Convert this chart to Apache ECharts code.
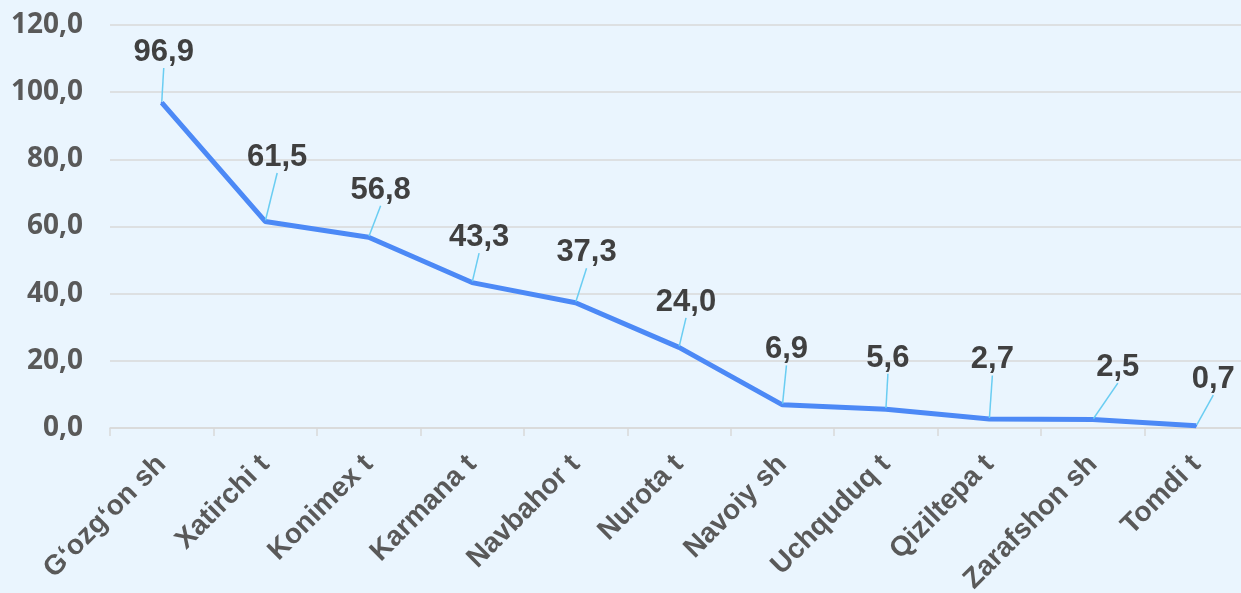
<!DOCTYPE html>
<html>
<head>
<meta charset="utf-8">
<script src="https://cdn.jsdelivr.net/npm/echarts@6/dist/echarts.min.js"></script>
<style>
html, body { margin: 0; padding: 0; background: #EAF5FE; }
#chart { width: 1241px; height: 593px; }
</style>
</head>
<body>
<div id="chart"></div>
<script>
//hudud nomlari
var categories = ['G‘ozg‘on sh', 'Xatirchi t', 'Konimex t', 'Karmana t', 'Navbahor t', 'Nurota t', 'Navoiy sh', 'Uchquduq t', 'Qiziltepa t', 'Zarafshon sh', 'Tomdi t'];
//qiymatlar
var values = [96.9, 61.5, 56.8, 43.3, 37.3, 24.0, 6.9, 5.6, 2.7, 2.5, 0.7];
//y o'qi
var yMin = 0;
var yMax = 120;
var yStep = 20;
//yorliqlarning nuqtaga nisbatan siljishi (px)
var labelOffsets = [[2, -50], [12, -64], [12, -47], [7, -45], [11, -50], [7, -45], [4, -55], [2, -51], [3, -59], [25, -52], [17, -46]];

function fmt(v) {
	return Number(v).toFixed(1).replace('.', ',');
}

var mychart = echarts.init(document.getElementById('chart'));
var option = {
	backgroundColor: '#EAF5FE',
	animation: false,
	grid: {
		outerBoundsMode: 'none',
		containLabel: false,
		left: 110,
		width: 1138,
		top: 25,
		bottom: 165
	},
	xAxis: {
		type: 'category',
		data: categories,
		boundaryGap: true,
		axisLine: { lineStyle: { color: '#D9D9D9', width: 1.5 } },
		axisTick: { show: true, length: 8, lineStyle: { color: '#D9D9D9', width: 1.5 } },
		axisLabel: {
			rotate: 45,
			margin: 32,
			interval: 0,
			color: '#595959',
			fontFamily: 'Liberation Sans',
			fontWeight: 'bold',
			fontSize: 28
		}
	},
	yAxis: {
		type: 'value',
		min: yMin,
		max: yMax,
		interval: yStep,
		axisLine: { show: false },
		axisTick: { show: false },
		splitLine: { lineStyle: { color: '#D9D9D9', width: 1.5 } },
		axisLabel: {
			margin: 27,
			color: '#595959',
			fontFamily: 'Open Sans',
			fontWeight: 'bold',
			fontSize: 28,
			formatter: fmt
		}
	},
	series: [{
		type: 'line',
		data: values,
		symbol: 'circle',
		symbolSize: 2,
		showSymbol: true,
		lineStyle: { color: '#4C89F6', width: 5 },
		itemStyle: { color: '#4C89F6' },
		label: {
			show: true,
			position: 'top',
			color: '#404040',
			fontFamily: 'Liberation Sans',
			fontWeight: 'bold',
			fontSize: 31,
			padding: 8,
			formatter: function (p) { return fmt(p.value); }
		},
		labelLine: {
			show: true,
			lineStyle: { color: '#6ACDF2', width: 1.5 }
		},
		labelLayout: function (params) {
			var o = labelOffsets[params.dataIndex];
			var cx = params.rect.x + params.rect.width / 2;
			var cy = params.rect.y + params.rect.height / 2;
			return {
				x: cx + o[0],
				y: cy + o[1],
				align: 'center',
				verticalAlign: 'middle'
			};
		}
	}]
};
mychart.setOption(option);
</script>
</body>
</html>
